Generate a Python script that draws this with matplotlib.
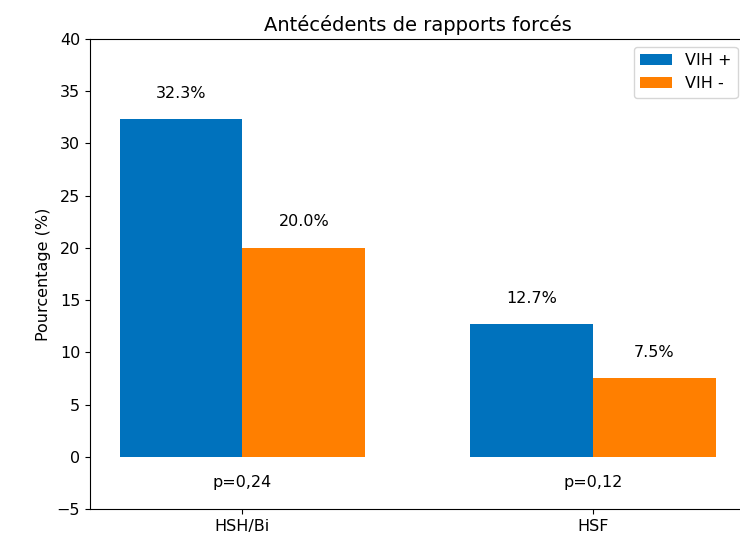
import numpy as np
import matplotlib.pyplot as plt

# Data
groups = ['HSH/Bi', 'HSF']
vih_pos = [32.3, 12.7]
vih_neg = [20.0, 7.5]
p_values = ['p=0,24', 'p=0,12']

plt.rcParams['font.size'] = 11.5

x = np.arange(len(groups))
width = 0.35

fig = plt.figure(figsize=(7.4, 5.38), dpi=100)
ax = fig.add_axes([0.1216, 0.0539, 0.886, 0.8736])

bars_pos = ax.bar(x - width / 2, vih_pos, width, label='VIH +', color='#0072BD')
bars_neg = ax.bar(x + width / 2, vih_neg, width, label='VIH -', color='#FF7F00')

# Percent labels above each bar
for bars in (bars_pos, bars_neg):
    for b in bars:
        h = b.get_height()
        ax.text(b.get_x() + b.get_width() / 2, h + 2.5, f'{h:.1f}%',
                ha='center', va='center', fontsize=11.5)

# p-values under each group
for xi, p in zip(x, p_values):
    ax.text(xi, -2.5, p, ha='center', va='center', fontsize=11.5)

ax.set_ylim(-5, 40)
ax.set_xticks(x)
ax.set_xticklabels(groups)
ax.set_ylabel('Pourcentage (%)')
ax.set_title('Antécédents de rapports forcés', fontsize=14)
ax.legend(loc='upper right', fontsize=11.5)
# the reference is cropped on the right, so no right spine shows
ax.spines['right'].set_visible(False)

plt.savefig('out.png', dpi=100)
